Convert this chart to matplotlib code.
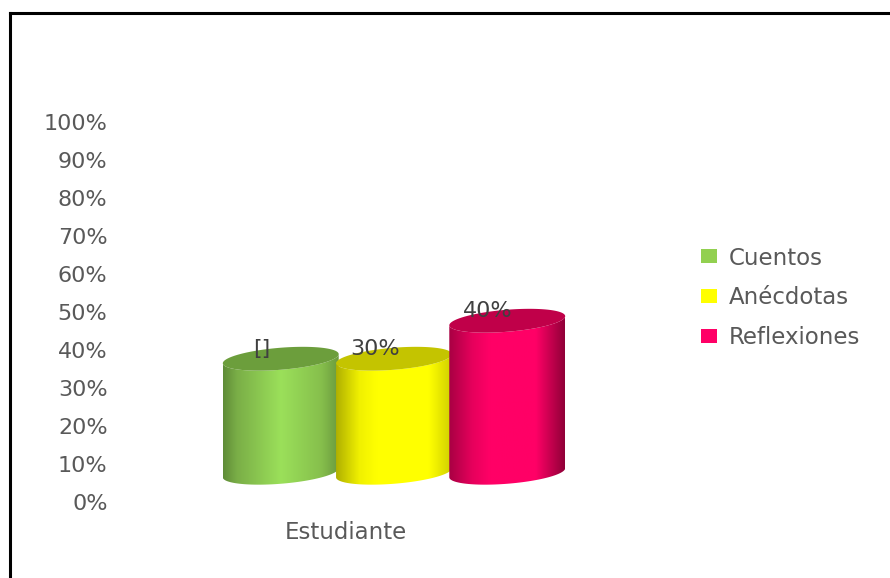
import numpy as np
import matplotlib
matplotlib.use('Agg')
import matplotlib.pyplot as plt
from matplotlib.colors import LinearSegmentedColormap
from matplotlib.lines import Line2D
from matplotlib.patches import Patch, PathPatch, Polygon
from matplotlib.path import Path

# Data
category = 'Estudiante'
series_names = ['Cuentos', 'Anécdotas', 'Reflexiones']
series_values = [30, 30, 40]
data_labels = ['[]', '30%', '40%']
y_ticks = [0, 10, 20, 30, 40, 50, 60, 70, 80, 90, 100]

# Colours
legend_colors = ['#92D050', '#FFFF00', '#FF0066']
top_colors = ['#6C9E3C', '#C4C400', '#C00049']
body_stops = [
    [(0, '#5F8C38'), (0.12, '#7AAE47'), (0.5, '#9BE05A'), (0.85, '#86BF4C'), (1, '#6B9A3E')],
    [(0, '#B0B000'), (0.2, '#F0F000'), (0.35, '#FFFF00'), (0.8, '#FFFF00'), (1, '#D0D000')],
    [(0, '#A80043'), (0.2, '#E6005C'), (0.35, '#FF0066'), (0.75, '#FF0066'), (1, '#900038')],
]
text_color = '#595959'

# 3D look of the chart: the floor sits above 0% and right of the category
bar_width = 0.305
depth_y = 7.7
depth_x = 0.126
cap_height = 2.9
cap_tilt = 1.2

plt.rcParams['font.family'] = 'DejaVu Sans'
fig = plt.figure(figsize=(8.9, 5.78), dpi=100)
ax = fig.add_axes([120 / 890, 76 / 578, 548 / 890, 380 / 578])

t = np.linspace(0, 2 * np.pi, 121)


def ellipse_y(center, angle):
    return center + cap_height * np.sin(angle) + cap_tilt * np.cos(angle)


for i, value in enumerate(series_values):
    center = depth_x + (i - 1) * 0.298
    half = bar_width / 2
    top = value + depth_y
    # body outline: front of top cap, then front of bottom cap
    front = np.linspace(np.pi, 2 * np.pi, 61)
    xs = center + half * np.cos(front)
    outline = np.vstack([
        np.column_stack([xs, ellipse_y(top, front)]),
        np.column_stack([xs[::-1], ellipse_y(depth_y, front[::-1])]),
    ])
    cmap = LinearSegmentedColormap.from_list('body%d' % i, body_stops[i])
    gradient = np.linspace(0, 1, 256).reshape(1, -1)
    img = ax.imshow(gradient, cmap=cmap, aspect='auto', zorder=2 + i,
                    extent=[center - half, center + half, 0, top + 5])
    clip = PathPatch(Path(outline), transform=ax.transData, facecolor='none', edgecolor='none')
    ax.add_patch(clip)
    img.set_clip_path(clip)
    cap = Polygon(np.column_stack([center + half * np.cos(t), ellipse_y(top, t)]),
                  closed=True, facecolor=top_colors[i], edgecolor='none', zorder=2 + i)
    ax.add_patch(cap)
    ax.text(center - 0.05, top + 2.5, data_labels[i], ha='center', va='center',
            fontsize=16, color='#404040', zorder=10)

ax.set_xlim(-0.595, 0.847)
ax.set_ylim(0, 100)
ax.set_yticks(y_ticks)
ax.set_yticklabels(['%d%%' % v for v in y_ticks], fontsize=16, color=text_color)
ax.set_xticks([0])
ax.set_xticklabels([category], fontsize=16.5, color=text_color)
ax.tick_params(axis='y', length=0, pad=9)
ax.tick_params(axis='x', length=0, pad=14)
for spine in ax.spines.values():
    spine.set_visible(False)

handles = [Patch(facecolor=c, edgecolor='none') for c in legend_colors]
fig.legend(handles, series_names, loc='center left', bbox_to_anchor=(694 / 890, 1 - 298 / 578),
           frameon=False, fontsize=16.5, labelcolor=text_color, handlelength=0.7,
           handleheight=0.57, handletextpad=0.52, labelspacing=0.74, borderpad=0.3, borderaxespad=0)

# outer frame, only left and top edges show in the crop
fig.add_artist(Line2D([9.8 / 890, 9.8 / 890], [0, 1 - 12.5 / 578], color='black', lw=2.2))
fig.add_artist(Line2D([9.8 / 890, 1], [1 - 12.5 / 578, 1 - 12.5 / 578], color='black', lw=2.2))

fig.savefig('out.png', dpi=100)
